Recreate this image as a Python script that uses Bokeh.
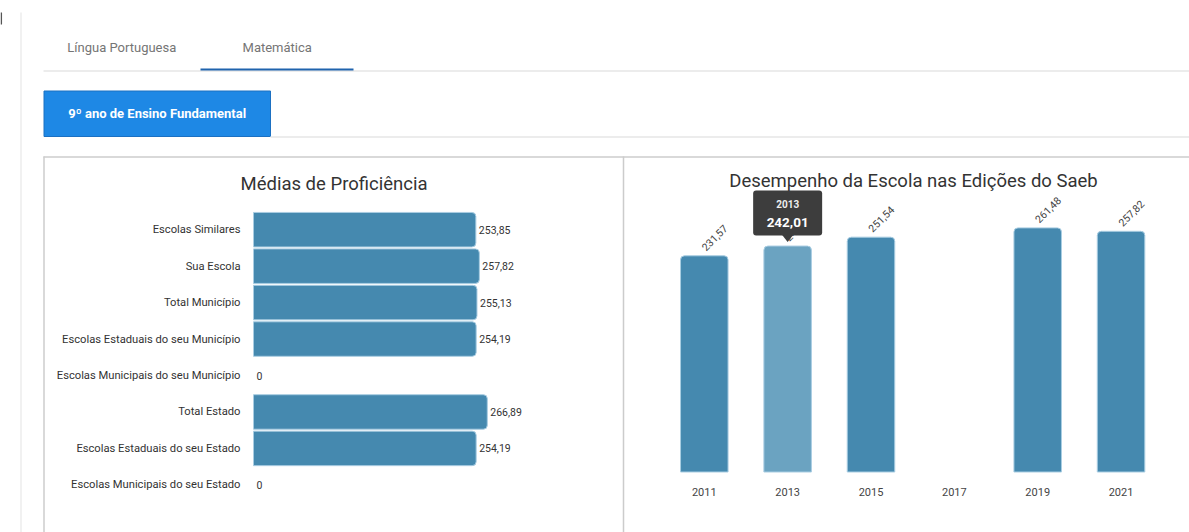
import math
from bokeh.plotting import figure
from bokeh.models import Range1d
from bokeh.core.properties import value
from bokeh.embed import file_html
from bokeh.resources import INLINE

# ---------------- data ----------------
categories = [
    "Escolas Similares",
    "Sua Escola",
    "Total Município",
    "Escolas Estaduais do seu Município",
    "Escolas Municipais do seu Município",
    "Total Estado",
    "Escolas Estaduais do seu Estado",
    "Escolas Municipais do seu Estado",
]
medias = [253.85, 257.82, 255.13, 254.19, 0, 266.89, 254.19, 0]

years = [2011, 2013, 2015, 2017, 2019, 2021]
saeb = [231.57, 242.01, 251.54, None, 261.48, 257.82]
highlight_year = 2013

tab_labels = ["Língua Portuguesa", "Matemática"]
grade_label = "9º ano de Ensino Fundamental"
title_left = "Médias de Proficiência"
title_right = "Desempenho da Escola nas Edições do Saeb"


def fmt(v):
    return "0" if v == 0 else f"{v:.2f}".replace(".", ",")


# ---------------- layout constants (page pixels) ----------------
W, H = 1189, 532
X0, Y0 = 0, 0
FONT = value("Roboto")
BAR = "#4589af"
BAR_HI = "#6ba3c1"
BAR_EDGE = "#a9cde2"
TXT = "#333333"

H_ZERO_X = 253.0
H_PX_PER_UNIT = 0.876
H_ROW0_Y = 229.2
H_ROW_STEP = 36.45
V_FIRST_X = 703.8
V_PX_PER_YEAR = 41.675
V_BASE_Y = 471.5
V_PX_PER_UNIT = 0.9336

p = figure(width=W, height=H,
           x_range=Range1d(X0, X0 + W), y_range=Range1d(Y0 + H, Y0),
           x_axis_type=None, y_axis_type=None,
           toolbar_location=None, output_backend="svg",
           min_border=0, outline_line_color=None,
           background_fill_color="white", border_fill_color="white")

p.extra_x_ranges = {
    "hx": Range1d((X0 - H_ZERO_X) / H_PX_PER_UNIT, (X0 + W - H_ZERO_X) / H_PX_PER_UNIT),
    "vx": Range1d(years[0] + (X0 - V_FIRST_X) / V_PX_PER_YEAR,
                  years[0] + (X0 + W - V_FIRST_X) / V_PX_PER_YEAR),
}
p.extra_y_ranges = {
    "hy": Range1d((Y0 + H - H_ROW0_Y) / H_ROW_STEP, (Y0 - H_ROW0_Y) / H_ROW_STEP),
    "vy": Range1d(-(Y0 + H - V_BASE_Y) / V_PX_PER_UNIT, (V_BASE_Y - Y0) / V_PX_PER_UNIT),
}

# ---------------- page decorations ----------------
p.segment(x0=[0.8], y0=[12], x1=[0.8], y1=[24], line_color="#555555", line_width=1.5)
p.segment(x0=[20.5], y0=[12], x1=[20.5], y1=[540], line_color="#e3e3e3", line_width=1)

p.text(x=[121.3, 276.7], y=[47, 47], text=tab_labels, text_font=FONT,
       text_font_size=value("13px"), text_color="#757575",
       text_align="center", text_baseline="middle")
p.segment(x0=[43], y0=[70.5], x1=[1200], y1=[70.5], line_color="#e6e6e6", line_width=1.5)
p.segment(x0=[200], y0=[69], x1=[353], y1=[69], line_color="#1f63ad", line_width=2)

p.quad(left=[43.5], right=[270], top=[90.5], bottom=[136], fill_color="#1e88e5",
       line_color="#1b70c2", line_width=1)
p.text(x=[156.7], y=[112.5], text=[grade_label], text_font=FONT,
       text_font_size=value("13px"), text_font_style="bold", text_color="white",
       text_align="center", text_baseline="middle")
p.segment(x0=[270], y0=[136.5], x1=[1200], y1=[136.5], line_color="#e6e6e6", line_width=1.5)

# panels
p.segment(x0=[43, 43.5, 623], y0=[156.5, 156, 156], x1=[1200, 43.5, 623], y1=[156.5, 540, 540],
          line_color="#cccccc", line_width=1.5)

p.text(x=[333.5, 913], y=[183.5, 180.5], text=[title_left, title_right], text_font=FONT,
       text_font_size=value("18.5px"), text_color=TXT,
       text_align="center", text_baseline="middle")

# ---------------- horizontal bar chart ----------------
idx = list(range(len(categories)))
bar_idx = [i for i in idx if medias[i] > 0]
bar_val = [medias[i] for i in bar_idx]
p.hbar(y=bar_idx, left=0, right=bar_val, height=0.947,
       x_range_name="hx", y_range_name="hy",
       fill_color=BAR, line_color=BAR_EDGE, line_width=1,
       border_radius=(0, 4, 4, 0))
p.text(x=[0] * len(idx), y=idx, text=categories, x_offset=-13,
       x_range_name="hx", y_range_name="hy", text_font=FONT,
       text_font_size=value("11.2px"), text_color=TXT,
       text_align="right", text_baseline="middle")
p.text(x=medias, y=idx, text=[fmt(v) for v in medias], x_offset=3,
       x_range_name="hx", y_range_name="hy", text_font=FONT,
       text_font_size=value("10.5px"), text_color=TXT,
       text_align="left", text_baseline="middle")

# ---------------- vertical bar chart ----------------
vy = [y for y, v in zip(years, saeb) if v is not None]
vv = [v for v in saeb if v is not None]
vcol = [BAR_HI if y == highlight_year else BAR for y in vy]
p.vbar(x=vy, top=vv, bottom=0, width=1.14, x_range_name="vx", y_range_name="vy",
       fill_color=vcol, line_color=BAR_EDGE, line_width=1,
       border_radius=(4, 4, 0, 0))
p.text(x=vy, y=vv, text=[fmt(v) for v in vv], x_offset=-1, y_offset=-7,
       angle=math.pi / 4, x_range_name="vx", y_range_name="vy", text_font=FONT,
       text_font_size=value("10.5px"), text_color="#444444",
       text_align="left", text_baseline="middle")
p.text(x=years, y=[0] * len(years), text=[str(y) for y in years], y_offset=20,
       x_range_name="vx", y_range_name="vy", text_font=FONT,
       text_font_size=value("11px"), text_color="#444444",
       text_align="center", text_baseline="middle")

# ---------------- tooltip on highlighted bar ----------------
hv = saeb[years.index(highlight_year)]
cx = V_FIRST_X + (highlight_year - years[0]) * V_PX_PER_YEAR
btop = V_BASE_Y - hv * V_PX_PER_UNIT
tb = btop - 10.5
tt = tb - 45
p.quad(left=[cx - 34.5], right=[cx + 34.5], top=[tt], bottom=[tb],
       fill_color="#3d3d3d", line_color=None, border_radius=3)
p.patch(x=[cx - 5.5, cx + 5.5, cx], y=[tb - 0.5, tb - 0.5, btop - 4],
        fill_color="#3d3d3d", line_color=None)
p.text(x=[cx], y=[tt + 13.3], text=[str(highlight_year)], text_font=FONT,
       text_font_size=value("10px"), text_font_style="bold", text_color="#eeeeee",
       text_align="center", text_baseline="middle")
p.text(x=[cx], y=[tt + 31.7], text=[fmt(hv)], text_font=FONT,
       text_font_size=value("13.5px"), text_font_style="bold", text_color="white",
       text_align="center", text_baseline="middle")

open("out.html", "w").write(file_html(p, INLINE))
